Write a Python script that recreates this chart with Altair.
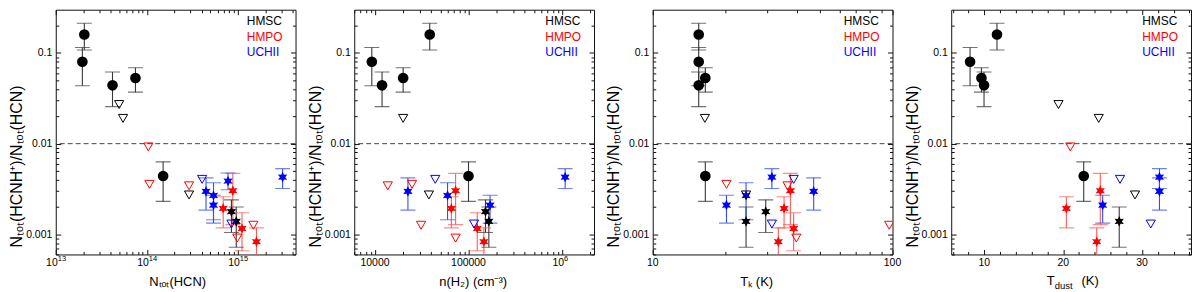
import json
import numpy as np
import pandas as pd
import altair as alt

# ---------------- data: one entry per source ----------------
group = ["HMSC"] * 10 + ["HMPO"] * 9 + ["UCHII"] * 7
kind = (["circle"] * 5 + ["star"] * 2 + ["limit"] * 3
        + ["star"] * 4 + ["limit"] * 5
        + ["star"] * 5 + ["limit"] * 2)
ratio = [0.16, 0.08, 0.044, 0.053, 0.0044,
         0.00178, 0.00139,
         0.027, 0.019, 0.00272,
         0.00193, 0.00303, 0.00116, 0.00083,
         0.0092, 0.00356, 0.00343, 0.00091, 0.00126,
         0.00298, 0.00268, 0.0021, 0.00387, 0.00427,
         0.00404, 0.0013]
err_hi = [0.213, 0.115, 0.0616, 0.0686, 0.0063,
          0.0024, 0.0020,
          None, None, None,
          0.0026, 0.0047, 0.00173, 0.00118,
          None, None, None, None, None,
          0.0042, 0.0037, 0.0027, 0.00475, 0.0053,
          None, None]
err_lo = [0.108, 0.0436, 0.0256, 0.037, 0.00231,
          0.00105, 0.00072,
          None, None, None,
          0.00118, 0.00128, 0.00066, 0.0004,
          None, None, None, None, None,
          0.00185, 0.00145, 0.00133, 0.0031, 0.0032,
          None, None]
n_hcn = [2.06e13, 1.96e13, 4.2e13, 7.5e13, 1.51e14,
         8.5e14, 9.6e14,
         4.97e13, 5.48e13, 2.91e14,
         6.9e14, 8.8e14, 1.11e15, 1.6e15,
         1.04e14, 1.07e14, 2.91e14, 9.85e14, 1.48e15,
         4.47e14, 5.4e14, 5.4e14, 7.8e14, 3.1e15,
         4.05e14, 8.5e14]
n_h2 = [38500, 9250, 11900, 20000, 100000,
        152000, 165000,
        None, 20000, 37700,
        65600, 72800, 124000, 146000,
        None, 24900, 13700, 72800, 31100,
        22500, 59700, 170000, None, 1.08e6,
        44100, 114600]
t_k = [15.55, 15.55, 15.55, 16.57, 16.57,
       29.6, 24.5,
       None, 16.5, 24.5,
       35.3, 37.5, 38.7, 33.4,
       None, 20.3, 36.5, 39.7, 96.9,
       46.9, 24.5, 20.3, None, 31.4,
       38.7, 31.4]
t_dust = [11.6, 8.19, 9.96, 9.63, 22.6,
          None, 27.1,
          19.4, 24.5, 29.1,
          20.4, 24.7, None, 24.25,
          20.9, None, None, None, None,
          32.2, None, 25.0, None, 32.2,
          27.2, 31.1]

legend_groups = ["HMSC", "HMPO", "UCHII"]
mark_colors = ["#000000", "#ff0000", "#0000ff"]
bar_colors = ["#383838", "#ff5a5a", "#3050f0"]

y_domain = [0.0006, 0.3]
y_major = [0.001, 0.01, 0.1]
y_labels = ["0.001", "0.01", "0.1"]
threshold = 0.01
y_title = "Nₜₒₜ(HCNH⁺)/Nₜₒₜ(HCN)"

# x tick labels: (base text, superscript exponent or "")
panels = [
    dict(x=n_hcn, type="log", domain=[1e13, 4.3e15],
         major=[1e13, 1e14, 1e15],
         labels=[("10", "13"), ("10", "14"), ("10", "15")],
         title="Nₜₒₜ(HCN)", title_x=122),
    dict(x=n_h2, type="log", domain=[6000, 2.2e6],
         major=[1e4, 1e5, 1e6],
         labels=[("10000", ""), ("100000", ""), ("10", "6")],
         title="n(H₂)  (cm⁻³)", title_x=119),
    dict(x=t_k, type="log", domain=[10, 100],
         major=[10, 100], labels=[("10", ""), ("100", "")],
         title="Tₖ  (K)", title_x=104),
    dict(x=t_dust, type="linear", domain=[5.8, 36.2],
         major=[10, 20, 30], labels=[("10", ""), ("20", ""), ("30", "")],
         title=None, title_x=0),
]

# ---------------- styling ----------------
W, H = 241, 246
FONT = "Liberation Sans"
LFS = 10.5
MAJ, MIN = 5, 3
ang_o = np.deg2rad(-90 + 60 * np.arange(6))
pts = []
for a in ang_o:
    pts.append((np.cos(a), np.sin(a)))
    b = a + np.deg2rad(30)
    pts.append((0.5 * np.cos(b), 0.5 * np.sin(b)))
STAR = "M" + " L".join(f"{px:.3f},{py:.3f}" for px, py in pts) + " Z"

mcol = dict(zip(legend_groups, mark_colors))
bcol = dict(zip(legend_groups, bar_colors))


def log_minor(lo, hi):
    out = []
    for k in range(int(np.floor(np.log10(lo))), int(np.ceil(np.log10(hi))) + 1):
        for m in range(2, 10):
            v = m * 10.0 ** k
            if lo <= v <= hi:
                out.append(v)
    return out


def label_expr(vals, labs):
    return (f"{json.dumps(labs, ensure_ascii=False)}"
            f"[indexof({json.dumps(vals)}, datum.value)]")


y_minor = log_minor(*y_domain)


def make_panel(p):
    df = pd.DataFrame(dict(group=group, kind=kind, ratio=ratio,
                           hi=err_hi, lo=err_lo, x=p["x"]))
    df = df.dropna(subset=["x"]).copy()
    df["mc"] = df["group"].map(mcol)
    df["bc"] = df["group"].map(bcol)
    derr = df.dropna(subset=["hi"])

    xs = alt.Scale(type=p["type"], domain=p["domain"], nice=False, zero=False)
    ys = alt.Scale(type="log", domain=y_domain, nice=False)
    if p["type"] == "log":
        x_minor = log_minor(*p["domain"])
    else:
        x_minor = [v for v in range(6, 37, 2) if v % 10 != 0
                   and p["domain"][0] <= v <= p["domain"][1]]

    def X(field="x:Q"):
        return alt.X(field, scale=xs, axis=None)

    def Y(field):
        return alt.Y(field, scale=ys, axis=None)

    layers = []
    eb = alt.Chart(derr)
    layers.append(eb.mark_rule(strokeWidth=1.1, clip=True).encode(
        x=X(), y=Y("lo:Q"), y2="hi:Q", color=alt.Color("bc:N", scale=None)))
    for f in ["hi:Q", "lo:Q"]:
        layers.append(eb.mark_tick(orient="horizontal", size=15, thickness=1.1,
                                   clip=True).encode(
            x=X(), y=Y(f), color=alt.Color("bc:N", scale=None)))
    base = alt.Chart(df)
    layers.append(base.transform_filter(alt.datum.kind == "circle").mark_point(
        shape="circle", filled=True, size=115, opacity=1, clip=True).encode(
        x=X(), y=Y("ratio:Q"), color=alt.Color("mc:N", scale=None)))
    layers.append(base.transform_filter(alt.datum.kind == "star").mark_point(
        shape=STAR, filled=True, size=115, opacity=1, clip=True).encode(
        x=X(), y=Y("ratio:Q"), color=alt.Color("mc:N", scale=None)))
    layers.append(base.transform_filter(alt.datum.kind == "limit").mark_point(
        shape="triangle-down", filled=False, size=85, strokeWidth=1,
        opacity=1, clip=True).encode(
        x=X(), y=Y("ratio:Q"), color=alt.Color("mc:N", scale=None)))
    layers.append(alt.Chart(pd.DataFrame({"t": [threshold]})).mark_rule(
        color="#444444", strokeWidth=1, strokeDash=[5, 3]).encode(y=Y("t:Q")))
    for i, (g, c) in enumerate(zip(legend_groups, mark_colors)):
        layers.append(alt.Chart(pd.DataFrame({"label": [g]})).mark_text(
            align="left", baseline="middle", font=FONT, fontSize=12,
            color=c).encode(text="label:N", x=alt.value(192),
                            y=alt.value(11 + 16 * i)))

    # x tick labels as text placed through the x scale
    lab = pd.DataFrame({"v": p["major"],
                        "base": [b for b, e in p["labels"]],
                        "exp": [e for b, e in p["labels"]]})
    plain = lab[lab["exp"] == ""]
    power = lab[lab["exp"] != ""]
    tkw = dict(font=FONT, baseline="top", color="black")
    if len(plain):
        layers.append(alt.Chart(plain).mark_text(
            align="center", fontSize=LFS, **tkw).encode(
            x=X("v:Q"), y=alt.value(H + 4), text="base:N"))
    if len(power):
        layers.append(alt.Chart(power).mark_text(
            align="right", dx=2, fontSize=LFS, **tkw).encode(
            x=X("v:Q"), y=alt.value(H + 4), text="base:N"))
        layers.append(alt.Chart(power).mark_text(
            align="left", dx=2, dy=-3, fontSize=7.5, **tkw).encode(
            x=X("v:Q"), y=alt.value(H + 4), text="exp:N"))

    corner = pd.DataFrame({"x": [p["domain"][0]], "y": [y_domain[0]]})

    def axis_layer(xa, ya):
        return alt.Chart(corner).mark_point(opacity=0).encode(
            x=alt.X("x:Q", scale=xs, axis=xa), y=alt.Y("y:Q", scale=ys, axis=ya))

    common = dict(grid=False, domain=False)
    if p["title"] is not None:
        xaxis = alt.Axis(orient="bottom", values=p["major"], ticks=False,
                         labels=False, title=p["title"], titleX=p["title_x"],
                         titleY=21, titleBaseline="top", **common)
    else:
        xaxis = None
    # labelled axes
    layers.append(axis_layer(
        xaxis,
        alt.Axis(orient="left", values=y_major, ticks=False,
                 labelExpr=label_expr(y_major, y_labels), labelPadding=4,
                 title=y_title, titlePadding=1, titleFontSize=16,
                 titleY=157, **common)))
    # inward ticks on all four sides
    for orient_x, orient_y in [("bottom", "left"), ("top", "right")]:
        for vals_x, vals_y, size in [(p["major"], y_major, MAJ),
                                     (x_minor, y_minor, MIN)]:
            layers.append(axis_layer(
                alt.Axis(orient=orient_x, values=vals_x, tickSize=size,
                         offset=-size, labels=False, title=None, **common),
                alt.Axis(orient=orient_y, values=vals_y, tickSize=size,
                         offset=-size, labels=False, title=None, **common)))

    if p["title"] is None:
        # T_dust (K) built from pieces
        pieces = [("T", 13, 0, 96), ("dust", 9.5, 4, 104), ("(K)", 13, 0, 131)]
        for txt, fs, dy, xo in pieces:
            layers.append(alt.Chart(pd.DataFrame({"label": [txt]})).mark_text(
                align="left", baseline="alphabetic", font=FONT, fontSize=fs,
                dy=dy, color="black").encode(
                text="label:N", x=alt.value(xo), y=alt.value(H + 31)))

    return alt.layer(*layers).resolve_axis(x="independent", y="independent") \
        .properties(width=W, height=H)


chart = alt.hconcat(*[make_panel(p) for p in panels], spacing=300 - W,
                    bounds="flush").properties(
    padding={"left": 0, "top": 0, "right": 0, "bottom": 0}
).configure_view(stroke="#111111", strokeWidth=1).configure_axis(
    labelFont=FONT, titleFont=FONT, labelFontSize=LFS, titleFontSize=13,
    titleFontWeight="normal", labelColor="black", titleColor="black",
    tickColor="#111111", tickWidth=1
)

chart.save("out.html", embed_options={"renderer": "svg", "actions": False})
